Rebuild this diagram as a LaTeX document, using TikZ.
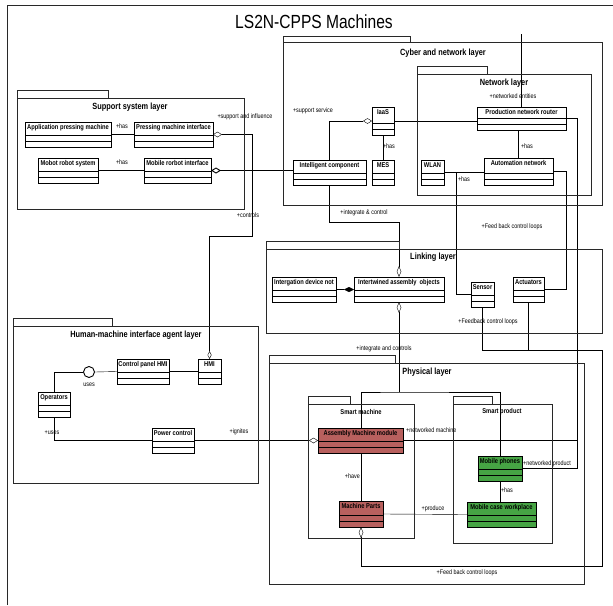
\documentclass[tikz,border=0pt]{standalone}
\usepackage{fontspec}
\setmainfont{Liberation Sans}
\newfontfamily\narrowfont{Liberation Sans}[FakeStretch=0.82]
\usetikzlibrary{arrows.meta,positioning,backgrounds,calc}
\definecolor{machred}{RGB}{184,96,94}
\definecolor{prodgreen}{RGB}{70,164,68}
\definecolor{framegray}{RGB}{40,40,40}

% one UML class: [fill] name, x, y (top left), width, height, text
\newcommand{\umlclass}[7][white]{%
  \node[classbox, fill=#1, minimum width=#5pt, minimum height=#6pt, anchor=north west] (#2) at (#3,#4) {};
  \node[classname, anchor=north] (#2-t) at (#2.north) {#7};
  \draw[classline] ([yshift=12pt]#2.south west) -- ([yshift=12pt]#2.south east)
                   ([yshift=6pt]#2.south west) -- ([yshift=6pt]#2.south east);
}

\begin{document}
\begin{tikzpicture}[
    x=1pt, y=-1pt,
    classbox/.style={draw=black, line width=0.9pt, inner sep=0pt, outer sep=0pt},
    classname/.style={font=\narrowfont\fontsize{7}{8}\selectfont\bfseries, inner sep=0pt, yshift=-2.5pt},
    classline/.style={line width=0.9pt},
    pkg/.style={draw=framegray, line width=0.9pt},
    pkgtitle/.style={font=\narrowfont\fontsize{9}{10}\selectfont\bfseries, inner sep=0pt},
    subtitle/.style={font=\narrowfont\fontsize{7}{8}\selectfont\bfseries, inner sep=0pt},
    rel/.style={font=\narrowfont\fontsize{6.6}{7}\selectfont, inner sep=0pt},
    conn/.style={line width=0.9pt},
]
\useasboundingbox (0,0) rectangle (613,605);

% ============ FRAME AND PACKAGES ============
\draw[pkg] (7,605) -- (7,5) -- (613,5);
\node[font=\narrowfont\fontsize{19}{21}\selectfont] (title) at (314,22) {LS2N-CPPS Machines};

\draw[pkg] (17,90) rectangle (108,98) (17,98) rectangle (244,209);
\node[pkgtitle] (supportlbl) at (130,107) {Support system layer};

\draw[pkg] (283,36) rectangle (410,42) (283,42) rectangle (602,205);
\node[pkgtitle] (cyberlbl) at (443,53) {Cyber and network layer};

\draw[pkg] (417,66) rectangle (487,74) (417,74) rectangle (591,195);
\node[pkgtitle] (netlbl) at (504,83) {Network layer};

\draw[pkg] (266,241) rectangle (399,249) (266,249) rectangle (602,333);
\node[pkgtitle] (linklbl) at (433,257) {Linking layer};

\draw[pkg] (13,318) rectangle (112,326) (13,326) rectangle (258,483);
\node[pkgtitle] (hmilbl) at (136,335) {Human-machine interface agent layer};

\draw[pkg] (269,355) rectangle (395,363) (269,363) rectangle (584,584);
\node[pkgtitle] (physlbl) at (427,372) {Physical layer};

\draw[pkg] (308,396) rectangle (350,404) (308,404) rectangle (414,538);
\node[subtitle] (smachlbl) at (361,412) {Smart machine};

\draw[pkg] (453,396) rectangle (492,404) (453,404) rectangle (552,543);
\node[subtitle] (sprodlbl) at (502,412) {Smart product};

% ============ CLASSES ============
\umlclass{appmach}{25}{122}{86}{25}{Application pressing machine}
\umlclass{pressif}{134}{122}{79}{25}{Pressing machine interface}
\umlclass{mobot}{38}{158}{60}{25}{Mobot robot system}
\umlclass{mobrobif}{144}{158}{67}{25}{Mobile rorbot interface}

\umlclass{iaas}{372}{107}{22}{28}{IaaS}
\umlclass{mes}{372}{160}{22}{25}{MES}
\umlclass{intcomp}{293}{160}{73}{25}{Intelligent component}
\umlclass{router}{477}{107}{89}{23}{Production network router}
\umlclass{wlan}{421}{160}{23}{25}{WLAN}
\umlclass{autonet}{484}{158}{69}{27}{Automation network}

\umlclass{intdev}{272}{277}{64}{25}{Intergation device not}
\umlclass{intobj}{354}{277}{90}{25}{Intertwined assembly\ \ objects}
\umlclass{sensor}{471}{282}{23}{25}{Sensor}
\umlclass{actuators}{513}{277}{31}{25}{Actuators}

\umlclass{cpanel}{117}{359}{52}{25}{Control panel HMI}
\umlclass{hmi}{198}{359}{23}{25}{HMI}
\umlclass{operators}{38}{392}{32}{25}{Operators}
\umlclass{powerctl}{152}{428}{42}{25}{Power control}
\node[circle, draw, line width=0.9pt, fill=white, minimum size=11pt, inner sep=0pt] (usesif) at (89,372) {};
\node[rel, below=5pt of usesif] (usestxt) {uses};

\umlclass[machred]{asmmod}{318}{428}{85}{25}{Assembly Machine module}
\umlclass[machred]{mparts}{339}{501}{44}{26}{Machine Parts}
\umlclass[prodgreen]{mphones}{478}{456}{44}{25}{Mobile phones}
\umlclass[prodgreen]{mcase}{467}{502}{69}{25}{Mobile case workplace}

% bend points
\coordinate (ctrlbend) at (252,236);
\coordinate (wlanjoin) at ($(wlan.east)+(12,0)$);
\coordinate (netbus) at ($(router.east)+(11,0)$);
\coordinate (smartbus) at ($(intobj.south)+(0,90)$);
\coordinate (fbtop) at (602,350);

% ============ CONNECTORS ============
\begin{scope}[on background layer, conn]
\draw (appmach.east) -- (pressif.west);
\draw (mobot.east) -- (mobrobif.west);
\draw[{Diamond[open,length=9pt,width=5.5pt]}-{Diamond[open,length=8pt,width=4pt]}] (pressif.east) -| (ctrlbend) -| (hmi.north);
\draw[{Diamond[open,length=10pt,width=6pt,line width=0.9pt]}-, line width=1.5pt] (mobrobif.east) -- (mobrobif.east -| intcomp.west);
\draw[-{Diamond[open,length=9pt,width=5.5pt]}] (intcomp.north) |- (iaas.west);
\draw (iaas.south) -- (mes.north);
\draw (iaas.east) -- (iaas.east -| router.west);
\draw (router.north) -- ++(0,-73);
\draw (autonet.north) -- (autonet.north |- router.south);
\draw (wlan.east) -- (wlan.east -| autonet.west);
\draw (wlanjoin) |- (sensor.west);
\draw (autonet.east) -- ++(13,0) |- (actuators.east);
\draw (router.east) -- (netbus) |- (mphones.east);
\draw (asmmod.east) -- (asmmod.east -| netbus);
\draw[-{Diamond[open,length=11pt,width=4.5pt]}] (intcomp.south) -- ++(0,37) -| (intobj.north);
\draw[-{Diamond[length=10pt,width=5pt]}] (intdev.east) -- (intobj.west);
\draw[{Diamond[open,length=11pt,width=4.5pt]}-] (intobj.south) -- (smartbus);
\draw (mparts.north) |- (smartbus) -| (mphones.north);
\draw[-{Diamond[open,length=9pt,width=5.5pt]}] (powerctl.east) -- (asmmod.west);
\draw (operators.south) |- (powerctl.west);
\draw (operators.north) |- (usesif.west);
\draw (usesif.east) -- (cpanel.west);
\draw (cpanel.east) -- (hmi.west);
\draw (mparts.east) -- (mcase.west);
\draw (mphones.south) -- (mphones.south |- mcase.north);
\draw[{Diamond[open,length=11pt,width=4.5pt]}-] (mparts.south) -- ++(0,39) -| (fbtop);
\draw (sensor.south) |- (fbtop);
\draw (actuators.south) -- (actuators.south |- fbtop);
\end{scope}

% ============ RELATION LABELS ============
\node[rel] (lhas1) at (122,126) {+has};
\node[rel] (lhas2) at (122,162) {+has};
\node[rel] (lsupinf) at (245,117) {+support and influence};
\node[rel] (lctrls) at (248,215) {+controls};
\node[rel] (lsupsvc) at (313,111) {+support service};
\node[rel] (lhas3) at (389,146) {+has};
\node[rel] (lnetent) at (513,96) {+networked entities};
\node[rel] (lhas4) at (527,146) {+has};
\node[rel] (lhas5) at (464,179) {+has};
\node[rel] (lintctl) at (364,213) {+integrate \& control};
\node[rel] (lfb1) at (512,227) {+Feed back control loops};
\node[rel] (lfb2) at (488,322) {+Feedback control loops};
\node[rel] (lintctls) at (384,349) {+integrate and controls};
\node[rel] (luses) at (52,433) {+uses};
\node[rel] (lign) at (239,432) {+ignites};
\node[rel, anchor=west] (lnetmach) at (406,430) {+networked machine};
\node[rel, anchor=west] (lnetprod) at (523,464) {+networked product};
\node[rel, anchor=east] (lhave) at (360,476) {+have};
\node[rel] (lhas6) at (507,490) {+has};
\node[rel] (lprod) at (433,509) {+produce};
\node[rel] (lfb3) at (467,573) {+Feed back control loops};

\end{tikzpicture}
\end{document}
